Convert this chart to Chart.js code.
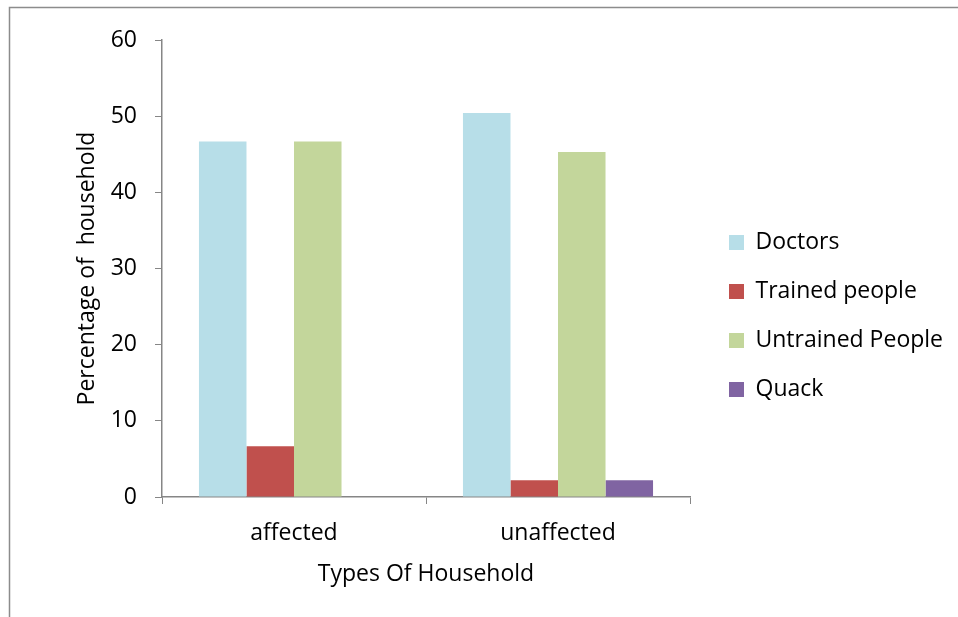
<!DOCTYPE html>
<html>
<head>
<meta charset="utf-8">
<script src="https://cdn.jsdelivr.net/npm/chart.js@4.4.1/dist/chart.umd.min.js"></script>
<style>
  html, body { margin: 0; padding: 0; background: #ffffff; }
  #wrap { position: relative; width: 958px; height: 617px; }
</style>
</head>
<body>
<div id="wrap"><canvas id="chart" width="958" height="617"></canvas></div>
<script>
// Household categories and who they consulted (percentage of households)
const categories = ['affected', 'unaffected'];
const seriesNames = ['Doctors', 'Trained people', 'Untrained People', 'Quack'];
const doctors = [46.67, 50.4];
const trainedPeople = [6.67, 2.2];
const untrainedPeople = [46.67, 45.3];
const quack = [0, 2.2];
const yTicks = [0, 10, 20, 30, 40, 50, 60];

const colors = ['#B7DEE8', '#C0504D', '#C3D69B', '#8064A2'];
const axisGray = '#868686';
const fontFamily = "'Open Sans', 'Noto Sans', sans-serif";
const fontSize = 23;

// Outer frame of the chart area (top and left edges)
const framePlugin = {
  id: 'frame',
  beforeDraw(chart) {
    const ctx = chart.ctx;
    ctx.save();
    ctx.strokeStyle = '#8C8C8C';
    ctx.lineWidth = 1.5;
    ctx.beginPath();
    ctx.moveTo(9.5, 640);
    ctx.lineTo(9.5, 7.5);
    ctx.lineTo(980, 7.5);
    ctx.stroke();
    ctx.restore();
  }
};

// Reserve a fixed column for the legend and place it inside that column
const legendPlacement = {
  id: 'legendPlacement',
  beforeLayout(chart) {
    const lg = chart.legend;
    if (lg && !lg._fixedFit) {
      const fit = lg.fit;
      lg.fit = function () {
        fit.call(this);
        this.width = 268;
      };
      lg._fixedFit = true;
    }
  },
  afterLayout(chart) {
    const lg = chart.legend;
    const w = lg.width;
    lg.left = 703;
    lg.right = lg.left + w;
    lg.top = 15;
    lg.bottom = 617;
  }
};

new Chart(document.getElementById('chart'), {
  type: 'bar',
  data: {
    labels: categories,
    datasets: [doctors, trainedPeople, untrainedPeople, quack].map((vals, i) => ({
      label: seriesNames[i],
      data: vals,
      backgroundColor: colors[i],
      borderWidth: 0,
      categoryPercentage: 0.72,
      barPercentage: 1.0
    }))
  },
  options: {
    responsive: false,
    animation: false,
    layout: { padding: { top: 40, left: 0, right: 0, bottom: 0 } },
    plugins: {
      tooltip: { enabled: false },
      legend: {
        position: 'right',
        align: 'center',
        labels: {
          boxWidth: 15,
          boxHeight: 15,
          padding: 26,
          color: '#000000',
          font: { family: fontFamily, size: fontSize }
        }
      }
    },
    scales: {
      x: {
        offset: true,
        grid: {
          offset: true,
          drawOnChartArea: false,
          drawTicks: true,
          tickLength: 7,
          color: axisGray
        },
        border: { color: axisGray, width: 1.5 },
        ticks: {
          color: '#000000',
          padding: 16,
          font: { family: fontFamily, size: fontSize }
        },
        title: {
          display: true,
          text: 'Types Of Household',
          color: '#000000',
          padding: { top: 29, bottom: 29 },
          font: { family: fontFamily, size: fontSize }
        },
        afterFit(scale) { scale.height = 120; }
      },
      y: {
        min: 0,
        max: 60,
        afterBuildTicks(scale) { scale.ticks = yTicks.map(v => ({ value: v })); },
        grid: {
          drawOnChartArea: false,
          drawTicks: true,
          tickLength: 7,
          color: axisGray
        },
        border: { color: axisGray, width: 1.5 },
        ticks: {
          color: '#000000',
          padding: 18,
          font: { family: fontFamily, size: fontSize }
        },
        title: {
          display: true,
          text: 'Percentage of  household',
          color: '#000000',
          padding: { top: 74, bottom: 74 },
          font: { family: fontFamily, size: fontSize }
        },
        afterFit(scale) { scale.width = 162; }
      }
    }
  },
  plugins: [framePlugin, legendPlacement]
});
</script>
</body>
</html>
